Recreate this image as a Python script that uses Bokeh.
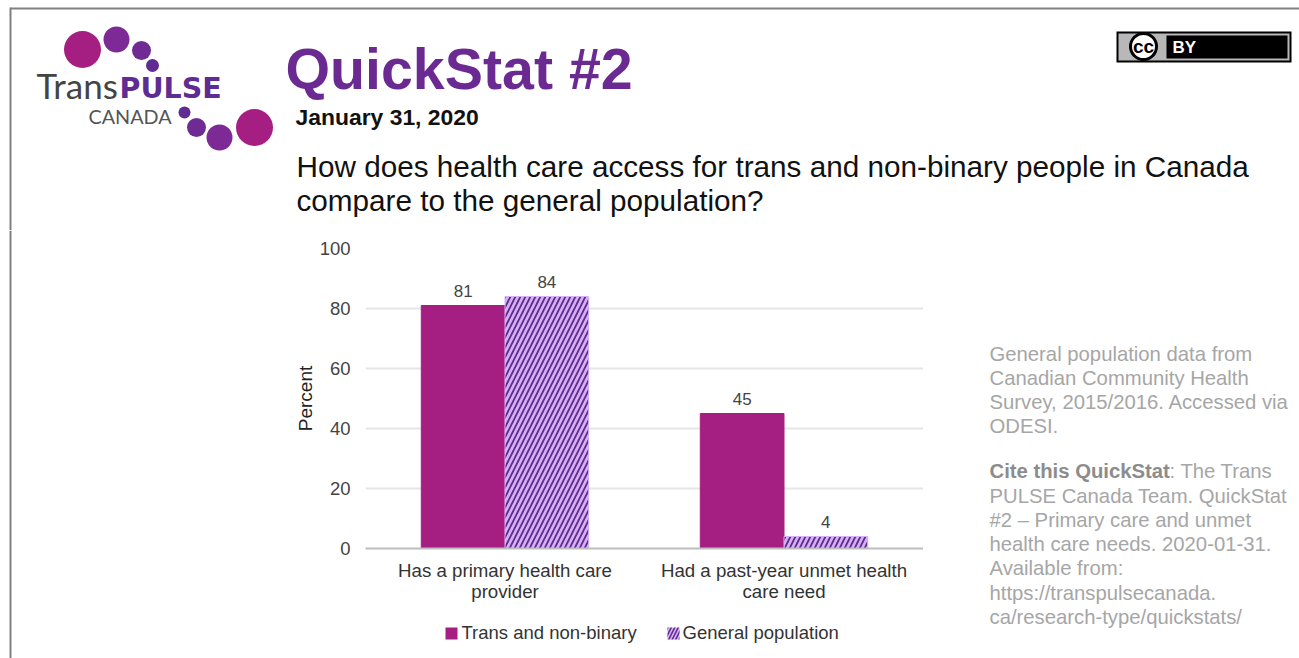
from bokeh.core.properties import value
from bokeh.embed import file_html
from bokeh.layouts import column, row
from bokeh.models import ColumnDataSource, FactorRange, Range1d
from bokeh.plotting import figure
from bokeh.resources import INLINE
from bokeh.transform import dodge

# Chart values
categories = ["Has a primary health care\nprovider", "Had a past-year unmet health\ncare need"]
trans_nonbinary = [81, 45]
general_population = [84, 4]
series_names = ["Trans and non-binary", "General population"]
y_ticks = [0, 20, 40, 60, 80, 100]

# Page text
title_text = "QuickStat #2"
date_text = "January 31, 2020"
question_lines = [
    "How does health care access for trans and non-binary people in Canada",
    "compare to the general population?",
]
source_lines = [
    "General population data from",
    "Canadian Community Health",
    "Survey, 2015/2016. Accessed via",
    "ODESI.",
]
cite_lines = [
    "PULSE Canada Team. QuickStat",
    "#2 – Primary care and unmet",
    "health care needs. 2020-01-31.",
    "Available from:",
    "https://transpulsecanada.",
    "ca/research-type/quickstats/",
]

MAGENTA = "#A51F82"
PURPLE = "#6B2A92"
HATCH_BG = "#D6B0F0"
HATCH_FG = "#5E2C92"
NOTE = "#A6A6A6"
SANS = "Liberation Sans"
W, H = 1299, 658
HEAD_BOTTOM = 230
CHART_LEFT, CHART_RIGHT, CHART_BOTTOM = 280, 923, 620
FRAME_LEFT, FRAME_TOP, FRAME_BOTTOM = 365, 248, 548


def panel(x0, x1, y0, y1):
    """A bare figure whose data coordinates are page pixels."""
    f = figure(width=x1 - x0, height=y1 - y0, x_range=Range1d(x0, x1), y_range=Range1d(y1, y0),
               output_backend="svg", toolbar_location=None, min_border=0,
               outline_line_color=None, frame_align=False)
    f.axis.visible = False
    f.grid.visible = False
    return f


def put(f, x, y, text, size, color, style="normal", font=SANS, align="left"):
    f.text([x], [y], text=[text], text_font=value(font), text_font_size=f"{size}px",
           text_color=color, text_font_style=style, text_align=align,
           text_baseline="middle")


def rect(f, x0, x1, y0, y1, color, **style):
    f.quad(left=[x0], right=[x1], top=[y0], bottom=[y1], fill_color=color, line_color=None, **style)


# Header: frame lines, logo, title, licence badge
head = panel(0, W, 0, HEAD_BOTTOM)
rect(head, 10, W, 7, 9, "#808080")
rect(head, 9, 11, 7, HEAD_BOTTOM, "#808080")

for cx, cy, r, col in [(82, 49, 18.5, "#A51F82"), (116, 39, 13, "#7D2A96"), (141, 50, 9.5, "#6F2A94"),
                       (152, 65, 6.5, "#5E2C92"), (184, 112, 6, "#5E2C92"), (196, 127, 9.5, "#6F2A94"),
                       (219, 137, 13, "#7D2A96"), (254, 127, 18.5, "#A51F82")]:
    head.circle([cx], [cy], radius=r, fill_color=col, line_color=None)

put(head, 36, 84, "Trans", 35, "#444444", font="Lato")
put(head, 119, 88, "PULSE", 28.5, "#5E2C92", style="bold", font="DejaVu Sans")
put(head, 88, 115, "CANADA", 19.8, "#555555", font="Lato")

put(head, 285, 68, title_text, 57.3, PURPLE, style="bold")
put(head, 295, 116, date_text, 22.9, "#111111", style="bold")
put(head, 296, 166, question_lines[0], 29.7, "#111111")
put(head, 296, 200, question_lines[1], 29.7, "#111111")

rect(head, 1116, 1291, 31, 62, "#000000")
rect(head, 1118, 1289, 33, 60, "#B8B8B8")
rect(head, 1166, 1287, 35, 58, "#000000")
head.circle([1143], [46], radius=13, fill_color="#FFFFFF", line_color="#000000", line_width=3)
put(head, 1143, 46, "cc", 19, "#000000", style="bold", align="center")
put(head, 1172, 47, "BY", 17, "#FFFFFF", style="bold")

# Left margin holding only the frame line
margin = panel(0, CHART_LEFT, HEAD_BOTTOM, H)
rect(margin, 9, 11, HEAD_BOTTOM, H, "#808080")

# Grouped bars
source = ColumnDataSource(dict(cat=categories, trans=trans_nonbinary, gen=general_population))
chart = figure(width=CHART_RIGHT - CHART_LEFT, height=CHART_BOTTOM - HEAD_BOTTOM,
               x_range=FactorRange(*categories, range_padding=0, factor_padding=0),
               y_range=Range1d(0, 100), output_backend="svg", toolbar_location=None,
               min_border_left=FRAME_LEFT - CHART_LEFT, min_border_right=0,
               min_border_top=FRAME_TOP - HEAD_BOTTOM, min_border_bottom=CHART_BOTTOM - FRAME_BOTTOM,
               outline_line_color=None, frame_align=False)

bar_w = 0.3
chart.vbar(x=dodge("cat", -bar_w / 2, range=chart.x_range), top="trans", width=bar_w,
           bottom=0, source=source, fill_color=MAGENTA, line_color=MAGENTA)
chart.vbar(x=dodge("cat", bar_w / 2, range=chart.x_range), top="gen", width=bar_w,
           bottom=0, source=source, fill_color=HATCH_BG, line_color=HATCH_BG,
           hatch_pattern="right_diagonal_line", hatch_color=HATCH_FG,
           hatch_scale=10, hatch_weight=1.8)

for col, off in [("trans", -bar_w / 2), ("gen", bar_w / 2)]:
    chart.text(x=dodge("cat", off, range=chart.x_range), y=col, text=col, source=source,
               y_offset=-9, text_align="center", text_baseline="bottom", text_font=value(SANS),
               text_font_size="17px", text_color="#444444")

chart.yaxis.ticker = y_ticks
chart.yaxis.axis_line_color = None
chart.yaxis.major_tick_line_color = None
chart.yaxis.minor_tick_line_color = None
chart.yaxis.major_label_standoff = 9
chart.yaxis.major_label_text_font = SANS
chart.yaxis.major_label_text_font_size = "18.5px"
chart.yaxis.major_label_text_color = "#444444"
chart.yaxis.axis_label = "Percent"
chart.yaxis.axis_label_text_font = SANS
chart.yaxis.axis_label_text_font_size = "19px"
chart.yaxis.axis_label_text_font_style = "normal"
chart.yaxis.axis_label_text_color = "#222222"
chart.yaxis.axis_label_standoff = 1

chart.xaxis.axis_line_color = "#BDBDBD"
chart.xaxis.axis_line_width = 2
chart.xaxis.major_tick_line_color = None
chart.xaxis.minor_tick_line_color = None
chart.xaxis.major_label_standoff = 5
chart.xaxis.major_label_text_font = SANS
chart.xaxis.major_label_text_font_size = "18.7px"
chart.xaxis.major_label_text_color = "#333333"
chart.xaxis.major_label_text_line_height = 1.0
chart.xaxis.major_label_orientation = "horizontal"

chart.xgrid.visible = False
chart.ygrid.grid_line_color = "#E6E6E6"
chart.ygrid.grid_line_width = 2

# Legend strip under the chart
foot = panel(CHART_LEFT, CHART_RIGHT, CHART_BOTTOM, H)
rect(foot, 445, 457, 627, 639, MAGENTA)
rect(foot, 667, 679, 627, 639, HATCH_BG, hatch_pattern="right_diagonal_line",
     hatch_color=HATCH_FG, hatch_scale=7, hatch_weight=1.6)
put(foot, 461, 632, series_names[0], 18.5, "#333333")
put(foot, 682, 632, series_names[1], 18.5, "#333333")

# Notes column on the right
side = panel(CHART_RIGHT, W, HEAD_BOTTOM, H)
for y, line in zip([353, 377, 401, 425], source_lines):
    put(side, 989, y, line, 20.3, NOTE)
put(side, 989, 470, "Cite this QuickStat", 20.3, "#8C8C8C", style="bold")
put(side, 1169, 470, ": The Trans", 20.3, NOTE)
for y, line in zip([495, 519, 543, 567, 592, 616], cite_lines):
    put(side, 989, y, line, 20.3, NOTE)

page = column(head, row(margin, column(chart, foot, spacing=0), side, spacing=0), spacing=0)
open("out.html", "w").write(file_html(page, INLINE))
